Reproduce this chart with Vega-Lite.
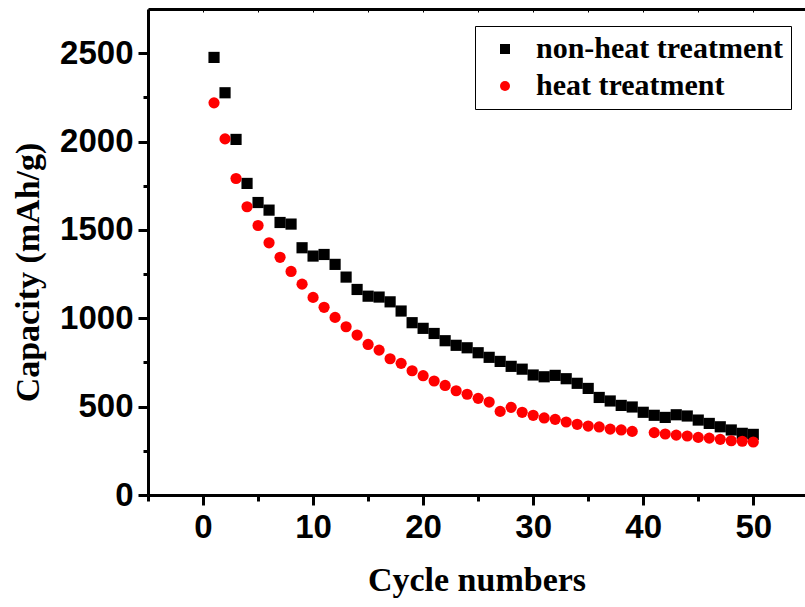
{
  "$schema": "https://vega.github.io/schema/vega-lite/v6.json",
  "width": 657,
  "height": 486,
  "autosize": {"type": "none"},
  "padding": {"left": 148, "top": 9, "right": 0, "bottom": 112},
  "background": "white",
  "config": {"view": {"stroke": null}},
  "data": {"values": [
    {"cycle": 1, "capacity": 2476, "series": "non-heat treatment"},
    {"cycle": 2, "capacity": 2276, "series": "non-heat treatment"},
    {"cycle": 3, "capacity": 2012, "series": "non-heat treatment"},
    {"cycle": 4, "capacity": 1763, "series": "non-heat treatment"},
    {"cycle": 5, "capacity": 1655, "series": "non-heat treatment"},
    {"cycle": 6, "capacity": 1612, "series": "non-heat treatment"},
    {"cycle": 7, "capacity": 1542, "series": "non-heat treatment"},
    {"cycle": 8, "capacity": 1533, "series": "non-heat treatment"},
    {"cycle": 9, "capacity": 1399, "series": "non-heat treatment"},
    {"cycle": 10, "capacity": 1352, "series": "non-heat treatment"},
    {"cycle": 11, "capacity": 1361, "series": "non-heat treatment"},
    {"cycle": 12, "capacity": 1305, "series": "non-heat treatment"},
    {"cycle": 13, "capacity": 1233, "series": "non-heat treatment"},
    {"cycle": 14, "capacity": 1163, "series": "non-heat treatment"},
    {"cycle": 15, "capacity": 1125, "series": "non-heat treatment"},
    {"cycle": 16, "capacity": 1120, "series": "non-heat treatment"},
    {"cycle": 17, "capacity": 1093, "series": "non-heat treatment"},
    {"cycle": 18, "capacity": 1041, "series": "non-heat treatment"},
    {"cycle": 19, "capacity": 975, "series": "non-heat treatment"},
    {"cycle": 20, "capacity": 943, "series": "non-heat treatment"},
    {"cycle": 21, "capacity": 914, "series": "non-heat treatment"},
    {"cycle": 22, "capacity": 873, "series": "non-heat treatment"},
    {"cycle": 23, "capacity": 847, "series": "non-heat treatment"},
    {"cycle": 24, "capacity": 833, "series": "non-heat treatment"},
    {"cycle": 25, "capacity": 805, "series": "non-heat treatment"},
    {"cycle": 26, "capacity": 779, "series": "non-heat treatment"},
    {"cycle": 27, "capacity": 756, "series": "non-heat treatment"},
    {"cycle": 28, "capacity": 728, "series": "non-heat treatment"},
    {"cycle": 29, "capacity": 712, "series": "non-heat treatment"},
    {"cycle": 30, "capacity": 679, "series": "non-heat treatment"},
    {"cycle": 31, "capacity": 669, "series": "non-heat treatment"},
    {"cycle": 32, "capacity": 677, "series": "non-heat treatment"},
    {"cycle": 33, "capacity": 658, "series": "non-heat treatment"},
    {"cycle": 34, "capacity": 632, "series": "non-heat treatment"},
    {"cycle": 35, "capacity": 603, "series": "non-heat treatment"},
    {"cycle": 36, "capacity": 552, "series": "non-heat treatment"},
    {"cycle": 37, "capacity": 532, "series": "non-heat treatment"},
    {"cycle": 38, "capacity": 507, "series": "non-heat treatment"},
    {"cycle": 39, "capacity": 498, "series": "non-heat treatment"},
    {"cycle": 40, "capacity": 468, "series": "non-heat treatment"},
    {"cycle": 41, "capacity": 451, "series": "non-heat treatment"},
    {"cycle": 42, "capacity": 439, "series": "non-heat treatment"},
    {"cycle": 43, "capacity": 454, "series": "non-heat treatment"},
    {"cycle": 44, "capacity": 447, "series": "non-heat treatment"},
    {"cycle": 45, "capacity": 424, "series": "non-heat treatment"},
    {"cycle": 46, "capacity": 405, "series": "non-heat treatment"},
    {"cycle": 47, "capacity": 386, "series": "non-heat treatment"},
    {"cycle": 48, "capacity": 368, "series": "non-heat treatment"},
    {"cycle": 49, "capacity": 349, "series": "non-heat treatment"},
    {"cycle": 50, "capacity": 343, "series": "non-heat treatment"},
    {"cycle": 1, "capacity": 2219, "series": "heat treatment"},
    {"cycle": 2, "capacity": 2015, "series": "heat treatment"},
    {"cycle": 3, "capacity": 1791, "series": "heat treatment"},
    {"cycle": 4, "capacity": 1631, "series": "heat treatment"},
    {"cycle": 5, "capacity": 1525, "series": "heat treatment"},
    {"cycle": 6, "capacity": 1427, "series": "heat treatment"},
    {"cycle": 7, "capacity": 1345, "series": "heat treatment"},
    {"cycle": 8, "capacity": 1265, "series": "heat treatment"},
    {"cycle": 9, "capacity": 1193, "series": "heat treatment"},
    {"cycle": 10, "capacity": 1118, "series": "heat treatment"},
    {"cycle": 11, "capacity": 1062, "series": "heat treatment"},
    {"cycle": 12, "capacity": 1005, "series": "heat treatment"},
    {"cycle": 13, "capacity": 952, "series": "heat treatment"},
    {"cycle": 14, "capacity": 905, "series": "heat treatment"},
    {"cycle": 15, "capacity": 852, "series": "heat treatment"},
    {"cycle": 16, "capacity": 820, "series": "heat treatment"},
    {"cycle": 17, "capacity": 771, "series": "heat treatment"},
    {"cycle": 18, "capacity": 745, "series": "heat treatment"},
    {"cycle": 19, "capacity": 703, "series": "heat treatment"},
    {"cycle": 20, "capacity": 675, "series": "heat treatment"},
    {"cycle": 21, "capacity": 645, "series": "heat treatment"},
    {"cycle": 22, "capacity": 620, "series": "heat treatment"},
    {"cycle": 23, "capacity": 590, "series": "heat treatment"},
    {"cycle": 24, "capacity": 570, "series": "heat treatment"},
    {"cycle": 25, "capacity": 547, "series": "heat treatment"},
    {"cycle": 26, "capacity": 526, "series": "heat treatment"},
    {"cycle": 27, "capacity": 473, "series": "heat treatment"},
    {"cycle": 28, "capacity": 496, "series": "heat treatment"},
    {"cycle": 29, "capacity": 468, "series": "heat treatment"},
    {"cycle": 30, "capacity": 451, "series": "heat treatment"},
    {"cycle": 31, "capacity": 436, "series": "heat treatment"},
    {"cycle": 32, "capacity": 428, "series": "heat treatment"},
    {"cycle": 33, "capacity": 413, "series": "heat treatment"},
    {"cycle": 34, "capacity": 400, "series": "heat treatment"},
    {"cycle": 35, "capacity": 390, "series": "heat treatment"},
    {"cycle": 36, "capacity": 385, "series": "heat treatment"},
    {"cycle": 37, "capacity": 373, "series": "heat treatment"},
    {"cycle": 38, "capacity": 368, "series": "heat treatment"},
    {"cycle": 39, "capacity": 360, "series": "heat treatment"},
    {"cycle": 41, "capacity": 353, "series": "heat treatment"},
    {"cycle": 42, "capacity": 345, "series": "heat treatment"},
    {"cycle": 43, "capacity": 339, "series": "heat treatment"},
    {"cycle": 44, "capacity": 334, "series": "heat treatment"},
    {"cycle": 45, "capacity": 326, "series": "heat treatment"},
    {"cycle": 46, "capacity": 322, "series": "heat treatment"},
    {"cycle": 47, "capacity": 315, "series": "heat treatment"},
    {"cycle": 48, "capacity": 307, "series": "heat treatment"},
    {"cycle": 49, "capacity": 304, "series": "heat treatment"},
    {"cycle": 50, "capacity": 300, "series": "heat treatment"}
  ]},
  "layer": [
    {
      "mark": {"type": "point", "filled": true, "opacity": 1, "strokeWidth": 0},
      "encoding": {
        "x": {
          "field": "cycle", "type": "quantitative",
          "scale": {"domain": [-5, 54.7], "nice": false, "zero": false},
          "axis": {
            "orient": "bottom",
            "title": "Cycle numbers",
            "values": [-5, 0, 5, 10, 15, 20, 25, 30, 35, 40, 45, 50],
            "labelExpr": "datum.value % 10 === 0 ? datum.label : ''",
            "format": "d",
            "grid": false,
            "domainColor": "black", "domainWidth": 3,
            "tickColor": "black", "tickWidth": 3,
            "tickSize": {"condition": {"test": "datum.value % 10 === 0", "value": 10}, "value": 6},
            "labelFont": "Liberation Sans", "labelFontWeight": "bold", "labelFontSize": 33, "labelColor": "black",
            "labelPadding": 6,
            "titleFont": "Liberation Serif", "titleFontWeight": "bold", "titleFontSize": 34, "titleColor": "black",
            "titleY": 85, "titleBaseline": "middle"
          }
        },
        "y": {
          "field": "capacity", "type": "quantitative",
          "scale": {"domain": [0, 2750], "nice": false, "zero": true},
          "axis": {
            "title": "Capacity (mAh/g)",
            "values": [0, 250, 500, 750, 1000, 1250, 1500, 1750, 2000, 2250, 2500],
            "labelExpr": "datum.value % 500 === 0 ? datum.label : ''",
            "format": "d",
            "grid": false,
            "domainColor": "black", "domainWidth": 3,
            "tickColor": "black", "tickWidth": 3,
            "tickSize": {"condition": {"test": "datum.value % 500 === 0", "value": 10}, "value": 5},
            "labelFont": "Liberation Sans", "labelFontWeight": "bold", "labelFontSize": 33, "labelColor": "black",
            "labelPadding": 5,
            "titleFont": "Liberation Serif", "titleFontWeight": "bold", "titleFontSize": 34, "titleColor": "black",
            "titleX": -120, "titleY": 263, "titleBaseline": "middle", "titleAlign": "center", "titleAngle": -90
          }
        },
        "color": {
          "field": "series", "type": "nominal",
          "scale": {"domain": ["non-heat treatment", "heat treatment"], "range": ["black", "red"]},
          "legend": {
            "title": null,
            "orient": "none", "legendX": 327, "legendY": 17,
            "strokeColor": "black", "fillColor": "white",
            "padding": 8, "symbolOffset": 7, "labelOffset": 16, "rowPadding": 7,
            "symbolSize": 100, "symbolStrokeWidth": 0,
            "labelFont": "Liberation Serif", "labelFontWeight": "bold", "labelFontSize": 30, "labelColor": "black",
            "labelLimit": 400
          }
        },
        "shape": {
          "field": "series", "type": "nominal",
          "scale": {"domain": ["non-heat treatment", "heat treatment"], "range": ["square", "circle"]}
        },
        "size": {"value": 125}
      }
    },
    {
      "mark": {"type": "point", "opacity": 0},
      "encoding": {
        "x": {
          "field": "cycle", "type": "quantitative",
          "axis": {
            "orient": "bottom", "offset": -486, "title": null, "labels": false, "grid": false,
            "values": [-5, 0, 5, 10, 15, 20, 25, 30, 35, 40, 45, 50],
            "domainColor": "black", "domainWidth": 3,
            "tickColor": "black", "tickWidth": 1, "tickSize": 3
          }
        }
      }
    }
  ],
  "resolve": {"axis": {"x": "independent"}}
}
